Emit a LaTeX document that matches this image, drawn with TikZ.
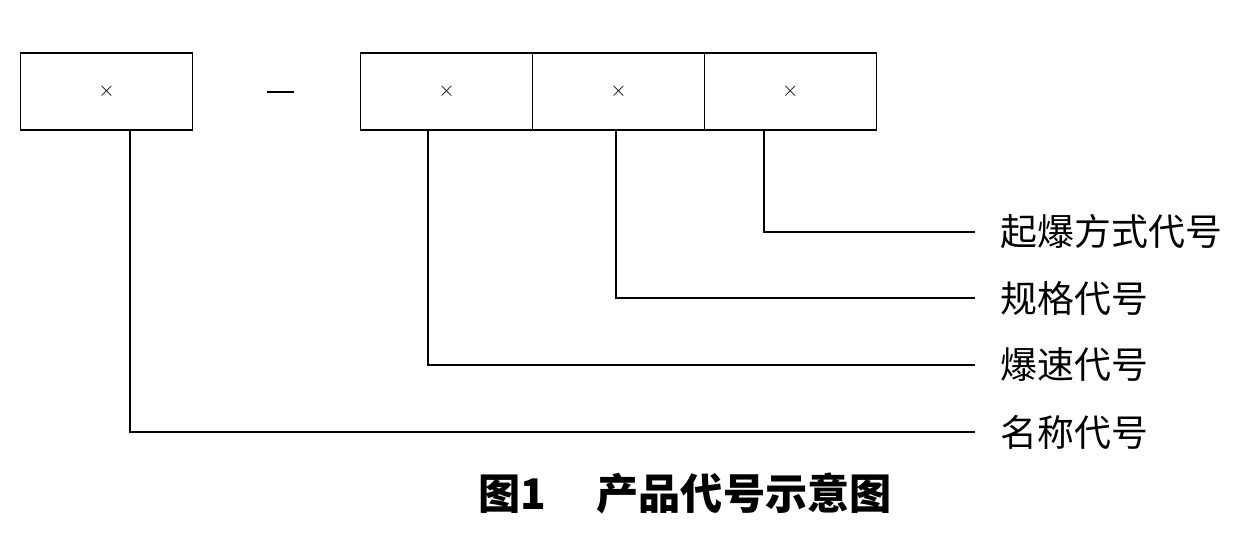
\documentclass[tikz,border=0pt]{standalone}
\usepackage{fontspec}
\newfontfamily\cjk{Noto Sans CJK SC}
\usetikzlibrary{positioning}
\tikzset{
  codebox/.style={draw, line width=1pt, minimum width=3.44cm, minimum height=1.54cm, inner sep=0pt, font=\large},
  lbl/.style={anchor=west, inner sep=0pt, font=\cjk\fontsize{21}{21}\selectfont},
}
\begin{document}
\begin{tikzpicture}[x=0.02cm,y=-0.02cm,line width=1pt]
\useasboundingbox (0,0) rectangle (1253,534);
\node[codebox] (name) at (106.5,91.5) {$\times$};
\node[codebox] (speed) at (446.5,91.5) {$\times$};
\node[codebox, right=-1pt of speed] (spec) {$\times$};
\node[codebox, right=-1pt of spec] (fire) {$\times$};
\node (dash) at (280,92) {\rule{0.54cm}{1.2pt}};

\node[lbl] (lfire) at (1000,232) {起爆方式代号};
\node[lbl] (lspec) at (1000,298) {规格代号};
\node[lbl] (lspeed) at (1000,365) {爆速代号};
\node[lbl] (lname) at (1000,432) {名称代号};

\draw ([xshift=0.47cm]name.south) |- ([xshift=-0.5cm]lname.west);
\draw ([xshift=-0.37cm]speed.south) |- ([xshift=-0.5cm]lspeed.west);
\draw ([xshift=-0.05cm]spec.south) |- ([xshift=-0.5cm]lspec.west);
\draw ([xshift=-0.53cm]fire.south) |- ([xshift=-0.5cm]lfire.west);

\node[font=\cjk\bfseries\fontsize{24}{24}\selectfont] (cap) at (685,493) {图1\hspace{1.2em}产品代号示意图};
\end{tikzpicture}
\end{document}
